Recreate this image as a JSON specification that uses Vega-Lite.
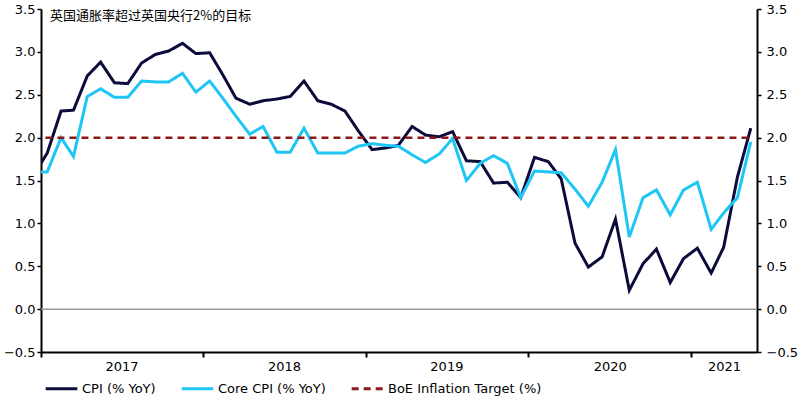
{
  "$schema": "https://vega.github.io/schema/vega-lite/v6.json",
  "width": 716,
  "height": 343,
  "autosize": {"type": "none"},
  "padding": {"left": 41, "top": 9, "right": 43, "bottom": 47},
  "title": {"text": "英国通胀率超过英国央行2%的目标", "anchor": "start", "frame": "group", "offset": -20, "dx": 9, "fontSize": 13, "font": "Noto Sans CJK SC", "fontWeight": "normal", "color": "#000000"},
  "config": {
    "view": {"stroke": null},
    "font": "DejaVu Sans",
    "axis": {"labelFont": "DejaVu Sans", "labelFontSize": 13, "labelColor": "#000000", "grid": false, "title": null, "domainColor": "#000000", "domainWidth": 2, "tickColor": "#000000", "labelFlush": false, "labelOverlap": false},
    "legend": {"symbolType": "stroke", "symbolSize": 1000, "symbolStrokeWidth": 3, "labelFont": "DejaVu Sans", "labelFontSize": 13, "labelColor": "#000000", "columnPadding": 19, "labelOffset": 3}
  },
  "layer": [
    {
      "data": {"values": [{"zero": 0}]},
      "mark": {"type": "rule", "color": "#999999", "strokeWidth": 1.5},
      "encoding": {"y": {"field": "zero", "type": "quantitative", "axis": null}}
    },
    {
      "data": {"values": [
        {"date": "2016-12-15", "series": "CPI (% YoY)", "value": 1.56},
        {"date": "2017-01-15", "series": "CPI (% YoY)", "value": 1.82},
        {"date": "2017-02-15", "series": "CPI (% YoY)", "value": 2.31},
        {"date": "2017-03-15", "series": "CPI (% YoY)", "value": 2.32},
        {"date": "2017-04-15", "series": "CPI (% YoY)", "value": 2.72},
        {"date": "2017-05-15", "series": "CPI (% YoY)", "value": 2.88},
        {"date": "2017-06-15", "series": "CPI (% YoY)", "value": 2.64},
        {"date": "2017-07-15", "series": "CPI (% YoY)", "value": 2.63},
        {"date": "2017-08-15", "series": "CPI (% YoY)", "value": 2.87},
        {"date": "2017-09-15", "series": "CPI (% YoY)", "value": 2.97},
        {"date": "2017-10-15", "series": "CPI (% YoY)", "value": 3.01},
        {"date": "2017-11-15", "series": "CPI (% YoY)", "value": 3.10},
        {"date": "2017-12-15", "series": "CPI (% YoY)", "value": 2.98},
        {"date": "2018-01-15", "series": "CPI (% YoY)", "value": 2.99},
        {"date": "2018-02-15", "series": "CPI (% YoY)", "value": 2.72},
        {"date": "2018-03-15", "series": "CPI (% YoY)", "value": 2.46},
        {"date": "2018-04-15", "series": "CPI (% YoY)", "value": 2.39},
        {"date": "2018-05-15", "series": "CPI (% YoY)", "value": 2.43},
        {"date": "2018-06-15", "series": "CPI (% YoY)", "value": 2.45},
        {"date": "2018-07-15", "series": "CPI (% YoY)", "value": 2.48},
        {"date": "2018-08-15", "series": "CPI (% YoY)", "value": 2.66},
        {"date": "2018-09-15", "series": "CPI (% YoY)", "value": 2.43},
        {"date": "2018-10-15", "series": "CPI (% YoY)", "value": 2.39},
        {"date": "2018-11-15", "series": "CPI (% YoY)", "value": 2.31},
        {"date": "2018-12-15", "series": "CPI (% YoY)", "value": 2.08},
        {"date": "2019-01-15", "series": "CPI (% YoY)", "value": 1.86},
        {"date": "2019-02-15", "series": "CPI (% YoY)", "value": 1.88},
        {"date": "2019-03-15", "series": "CPI (% YoY)", "value": 1.91},
        {"date": "2019-04-15", "series": "CPI (% YoY)", "value": 2.13},
        {"date": "2019-05-15", "series": "CPI (% YoY)", "value": 2.03},
        {"date": "2019-06-15", "series": "CPI (% YoY)", "value": 2.01},
        {"date": "2019-07-15", "series": "CPI (% YoY)", "value": 2.07},
        {"date": "2019-08-15", "series": "CPI (% YoY)", "value": 1.73},
        {"date": "2019-09-15", "series": "CPI (% YoY)", "value": 1.72},
        {"date": "2019-10-15", "series": "CPI (% YoY)", "value": 1.47},
        {"date": "2019-11-15", "series": "CPI (% YoY)", "value": 1.48},
        {"date": "2019-12-15", "series": "CPI (% YoY)", "value": 1.30},
        {"date": "2020-01-15", "series": "CPI (% YoY)", "value": 1.77},
        {"date": "2020-02-15", "series": "CPI (% YoY)", "value": 1.72},
        {"date": "2020-03-15", "series": "CPI (% YoY)", "value": 1.52},
        {"date": "2020-04-15", "series": "CPI (% YoY)", "value": 0.77},
        {"date": "2020-05-15", "series": "CPI (% YoY)", "value": 0.49},
        {"date": "2020-06-15", "series": "CPI (% YoY)", "value": 0.61},
        {"date": "2020-07-15", "series": "CPI (% YoY)", "value": 1.05},
        {"date": "2020-08-15", "series": "CPI (% YoY)", "value": 0.22},
        {"date": "2020-09-15", "series": "CPI (% YoY)", "value": 0.53},
        {"date": "2020-10-15", "series": "CPI (% YoY)", "value": 0.70},
        {"date": "2020-11-15", "series": "CPI (% YoY)", "value": 0.31},
        {"date": "2020-12-15", "series": "CPI (% YoY)", "value": 0.59},
        {"date": "2021-01-15", "series": "CPI (% YoY)", "value": 0.71},
        {"date": "2021-02-15", "series": "CPI (% YoY)", "value": 0.42},
        {"date": "2021-03-15", "series": "CPI (% YoY)", "value": 0.72},
        {"date": "2021-04-15", "series": "CPI (% YoY)", "value": 1.54},
        {"date": "2021-05-15", "series": "CPI (% YoY)", "value": 2.11},
        {"date": "2016-12-15", "series": "Core CPI (% YoY)", "value": 1.60},
        {"date": "2017-01-15", "series": "Core CPI (% YoY)", "value": 1.60},
        {"date": "2017-02-15", "series": "Core CPI (% YoY)", "value": 2.00},
        {"date": "2017-03-15", "series": "Core CPI (% YoY)", "value": 1.78},
        {"date": "2017-04-15", "series": "Core CPI (% YoY)", "value": 2.48},
        {"date": "2017-05-15", "series": "Core CPI (% YoY)", "value": 2.57},
        {"date": "2017-06-15", "series": "Core CPI (% YoY)", "value": 2.47},
        {"date": "2017-07-15", "series": "Core CPI (% YoY)", "value": 2.47},
        {"date": "2017-08-15", "series": "Core CPI (% YoY)", "value": 2.66},
        {"date": "2017-09-15", "series": "Core CPI (% YoY)", "value": 2.65},
        {"date": "2017-10-15", "series": "Core CPI (% YoY)", "value": 2.65},
        {"date": "2017-11-15", "series": "Core CPI (% YoY)", "value": 2.75},
        {"date": "2017-12-15", "series": "Core CPI (% YoY)", "value": 2.53},
        {"date": "2018-01-15", "series": "Core CPI (% YoY)", "value": 2.66},
        {"date": "2018-02-15", "series": "Core CPI (% YoY)", "value": 2.45},
        {"date": "2018-03-15", "series": "Core CPI (% YoY)", "value": 2.25},
        {"date": "2018-04-15", "series": "Core CPI (% YoY)", "value": 2.04},
        {"date": "2018-05-15", "series": "Core CPI (% YoY)", "value": 2.13},
        {"date": "2018-06-15", "series": "Core CPI (% YoY)", "value": 1.83},
        {"date": "2018-07-15", "series": "Core CPI (% YoY)", "value": 1.83},
        {"date": "2018-08-15", "series": "Core CPI (% YoY)", "value": 2.11},
        {"date": "2018-09-15", "series": "Core CPI (% YoY)", "value": 1.82},
        {"date": "2018-10-15", "series": "Core CPI (% YoY)", "value": 1.82},
        {"date": "2018-11-15", "series": "Core CPI (% YoY)", "value": 1.82},
        {"date": "2018-12-15", "series": "Core CPI (% YoY)", "value": 1.90},
        {"date": "2019-01-15", "series": "Core CPI (% YoY)", "value": 1.93},
        {"date": "2019-02-15", "series": "Core CPI (% YoY)", "value": 1.91},
        {"date": "2019-03-15", "series": "Core CPI (% YoY)", "value": 1.90},
        {"date": "2019-04-15", "series": "Core CPI (% YoY)", "value": 1.80},
        {"date": "2019-05-15", "series": "Core CPI (% YoY)", "value": 1.71},
        {"date": "2019-06-15", "series": "Core CPI (% YoY)", "value": 1.81},
        {"date": "2019-07-15", "series": "Core CPI (% YoY)", "value": 1.99},
        {"date": "2019-08-15", "series": "Core CPI (% YoY)", "value": 1.50},
        {"date": "2019-09-15", "series": "Core CPI (% YoY)", "value": 1.70},
        {"date": "2019-10-15", "series": "Core CPI (% YoY)", "value": 1.79},
        {"date": "2019-11-15", "series": "Core CPI (% YoY)", "value": 1.70},
        {"date": "2019-12-15", "series": "Core CPI (% YoY)", "value": 1.30},
        {"date": "2020-01-15", "series": "Core CPI (% YoY)", "value": 1.61},
        {"date": "2020-02-15", "series": "Core CPI (% YoY)", "value": 1.60},
        {"date": "2020-03-15", "series": "Core CPI (% YoY)", "value": 1.59},
        {"date": "2020-04-15", "series": "Core CPI (% YoY)", "value": 1.40},
        {"date": "2020-05-15", "series": "Core CPI (% YoY)", "value": 1.20},
        {"date": "2020-06-15", "series": "Core CPI (% YoY)", "value": 1.48},
        {"date": "2020-07-15", "series": "Core CPI (% YoY)", "value": 1.86},
        {"date": "2020-08-15", "series": "Core CPI (% YoY)", "value": 0.84},
        {"date": "2020-09-15", "series": "Core CPI (% YoY)", "value": 1.30},
        {"date": "2020-10-15", "series": "Core CPI (% YoY)", "value": 1.39},
        {"date": "2020-11-15", "series": "Core CPI (% YoY)", "value": 1.10},
        {"date": "2020-12-15", "series": "Core CPI (% YoY)", "value": 1.39},
        {"date": "2021-01-15", "series": "Core CPI (% YoY)", "value": 1.48},
        {"date": "2021-02-15", "series": "Core CPI (% YoY)", "value": 0.93},
        {"date": "2021-03-15", "series": "Core CPI (% YoY)", "value": 1.12},
        {"date": "2021-04-15", "series": "Core CPI (% YoY)", "value": 1.30},
        {"date": "2021-05-15", "series": "Core CPI (% YoY)", "value": 1.95}
      ]},
      "mark": {"type": "line", "strokeWidth": 3, "clip": true},
      "encoding": {
        "x": {
          "field": "date", "type": "temporal",
          "scale": {"type": "utc", "domain": [{"year": 2017, "month": 1, "date": 1, "utc": true}, {"year": 2021, "month": 5, "date": 29, "utc": true}]},
          "axis": {"orient": "bottom", "labels": false, "ticks": true, "tickSize": 5, "tickWidth": 2, "values": [
            {"year": 2017, "month": 1, "date": 1, "utc": true},
            {"year": 2018, "month": 1, "date": 1, "utc": true},
            {"year": 2019, "month": 1, "date": 1, "utc": true},
            {"year": 2020, "month": 1, "date": 1, "utc": true},
            {"year": 2021, "month": 1, "date": 1, "utc": true}
          ]}
        },
        "y": {
          "field": "value", "type": "quantitative",
          "scale": {"domain": [-0.5, 3.5], "nice": false, "zero": false},
          "axis": {"orient": "left", "values": [-0.5, 0, 0.5, 1, 1.5, 2, 2.5, 3, 3.5], "format": ".1f", "tickSize": 4, "tickWidth": 1.5, "labelPadding": 2}
        },
        "color": {
          "field": "series", "type": "nominal",
          "scale": {"domain": ["CPI (% YoY)", "Core CPI (% YoY)", "BoE Inflation Target (%)"], "range": ["#0c0c3c", "#1ec6f6", "#8b1a1a"]},
          "legend": {"title": null, "orient": "none", "direction": "horizontal", "legendX": 3, "legendY": 362}
        },
        "strokeDash": {
          "field": "series", "type": "nominal",
          "scale": {"domain": ["CPI (% YoY)", "Core CPI (% YoY)", "BoE Inflation Target (%)"], "range": [[1, 0], [1, 0], [7, 5]]},
          "legend": {"title": null, "orient": "none", "direction": "horizontal", "legendX": 3, "legendY": 362}
        }
      }
    },
    {
      "data": {"values": [
        {"date": "2016-12-15", "series": "BoE Inflation Target (%)", "value": 2.0},
        {"date": "2021-05-15", "series": "BoE Inflation Target (%)", "value": 2.0}
      ]},
      "mark": {"type": "line", "strokeWidth": 2.5, "clip": true},
      "encoding": {
        "x": {
          "field": "date", "type": "temporal",
          "axis": {"orient": "bottom", "domain": false, "ticks": false, "labels": true, "format": "%Y", "labelPadding": 8, "values": [
            {"year": 2017, "month": 7, "date": 1, "utc": true},
            {"year": 2018, "month": 7, "date": 1, "utc": true},
            {"year": 2019, "month": 7, "date": 1, "utc": true},
            {"year": 2020, "month": 7, "date": 2, "utc": true},
            {"year": 2021, "month": 3, "date": 16, "utc": true}
          ]}
        },
        "y": {
          "field": "value", "type": "quantitative",
          "axis": {"orient": "right", "values": [-0.5, 0, 0.5, 1, 1.5, 2, 2.5, 3, 3.5], "format": ".1f", "tickSize": 4, "tickWidth": 1.5, "labelPadding": 5}
        },
        "color": {
          "field": "series", "type": "nominal",
          "scale": {"domain": ["CPI (% YoY)", "Core CPI (% YoY)", "BoE Inflation Target (%)"], "range": ["#0c0c3c", "#1ec6f6", "#8b1a1a"]},
          "legend": {"title": null, "orient": "none", "direction": "horizontal", "legendX": 3, "legendY": 362}
        },
        "strokeDash": {
          "field": "series", "type": "nominal",
          "scale": {"domain": ["CPI (% YoY)", "Core CPI (% YoY)", "BoE Inflation Target (%)"], "range": [[1, 0], [1, 0], [7, 5]]},
          "legend": {"title": null, "orient": "none", "direction": "horizontal", "legendX": 3, "legendY": 362}
        }
      }
    }
  ],
  "resolve": {"axis": {"x": "independent", "y": "independent"}}
}
